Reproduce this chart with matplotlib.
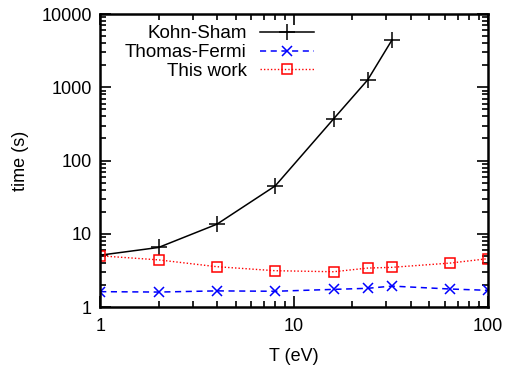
import matplotlib
matplotlib.use("Agg")
import matplotlib.pyplot as plt
from matplotlib.ticker import LogLocator, NullFormatter, FixedLocator, FixedFormatter

plt.rcParams['font.family'] = ['Liberation Sans', 'DejaVu Sans']

# data
T_ks = [1, 2, 4, 8, 16, 24, 32]
time_ks = [5.1, 6.5, 13.5, 45, 370, 1260, 4400]

T_tf = [1, 2, 4, 8, 16, 24, 32, 64, 100]
time_tf = [1.62, 1.60, 1.66, 1.64, 1.74, 1.80, 1.93, 1.76, 1.69]

T_tw = [1, 2, 4, 8, 16, 24, 32, 64, 100]
time_tw = [5.0, 4.4, 3.55, 3.13, 3.03, 3.4, 3.48, 3.98, 4.57]

fig = plt.figure(figsize=(5.06, 3.69), dpi=100)
ax = fig.add_subplot(111)
fig.subplots_adjust(left=0.198, right=0.964, top=0.962, bottom=0.168)

ax.plot(T_ks, time_ks, color='black', lw=1.1, marker='+', ms=12, mew=1.1,
        label='Kohn-Sham')
ax.plot(T_tf, time_tf, color='#0000ff', lw=1.1, ls=(0, (4, 3)), marker='x', ms=7,
        mew=1.1, label='Thomas-Fermi')
ax.plot(T_tw, time_tw, color='#ff0000', lw=1.0, ls=(0, (1, 1.5)), marker='s', ms=7,
        mfc='none', mew=1.1, label='This work')

ax.set_xscale('log')
ax.set_yscale('log')
ax.set_xlim(1, 100)
ax.set_ylim(1, 10000)

ax.xaxis.set_major_locator(FixedLocator([1, 10, 100]))
ax.xaxis.set_major_formatter(FixedFormatter(['1', '10', '100']))
ax.yaxis.set_major_locator(FixedLocator([1, 10, 100, 1000, 10000]))
ax.yaxis.set_major_formatter(FixedFormatter(['1', '10', '100', '1000', '10000']))
ax.xaxis.set_minor_locator(LogLocator(base=10, subs=range(2, 10)))
ax.yaxis.set_minor_locator(LogLocator(base=10, subs=range(2, 10)))
ax.xaxis.set_minor_formatter(NullFormatter())
ax.yaxis.set_minor_formatter(NullFormatter())

ax.tick_params(which='both', direction='in', top=True, right=True, labelsize=13,
               width=1.2)
ax.tick_params(axis='y', pad=6)
ax.tick_params(axis='x', pad=8)
ax.tick_params(which='major', length=8)
ax.tick_params(which='minor', length=4)
for s in ax.spines.values():
    s.set_linewidth(1.8)

ax.set_xlabel('T (eV)', fontsize=13, labelpad=9)
ax.set_ylabel('time (s)', fontsize=13, labelpad=9)

ax.legend(loc='upper right', bbox_to_anchor=(0.552, 0.962), frameon=False,
          markerfirst=False, fontsize=13.5, handlelength=2.9, handletextpad=0.7,
          labelspacing=0.09, borderaxespad=0, borderpad=0)

fig.savefig('out.png', dpi=100)
